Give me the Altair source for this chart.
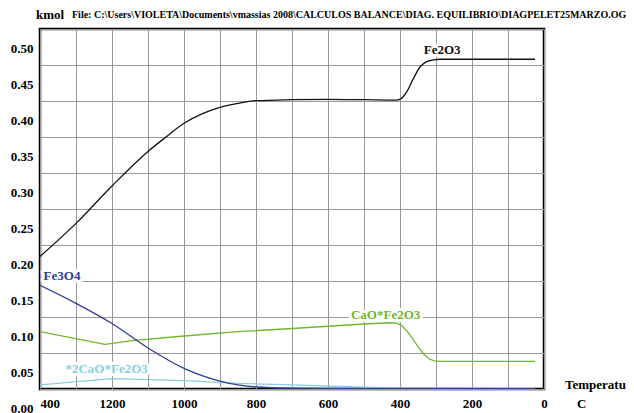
import altair as alt
import pandas as pd

# ---- data (temperature in C, amount in kmol) ----
T_FE2O3 = [1400, 1300, 1200, 1100, 1050, 1000, 950, 900, 850, 800, 700, 600, 500, 410, 395, 381, 363, 344, 326, 307, 290, 25]
FE2O3 = [0.209, 0.255, 0.307, 0.355, 0.375, 0.394, 0.407, 0.416, 0.4217, 0.4254, 0.4268, 0.4273, 0.4268, 0.4262, 0.429, 0.438, 0.456, 0.4726, 0.4796, 0.482, 0.483, 0.483]

T_FE3O4 = [1400, 1300, 1200, 1100, 1000, 900, 850, 800, 700, 600, 25]
FE3O4 = [0.169, 0.144, 0.116, 0.082, 0.0537, 0.036, 0.0306, 0.0278, 0.0262, 0.0258, 0.0255]

T_CAOFE2O3 = [1400, 1220, 1137, 1000, 850, 700, 500, 430, 410, 395, 380, 365, 350, 335, 320, 305, 290, 25]
CAOFE2O3 = [0.1046, 0.087, 0.0926, 0.0986, 0.1046, 0.109, 0.1153, 0.117, 0.1165, 0.113, 0.105, 0.095, 0.084, 0.074, 0.067, 0.064, 0.0634, 0.0634]

T_2CAOFE2O3 = [1400, 1200, 1000, 850, 700, 500, 400, 370, 340, 300, 25]
CAO2FE2O3 = [0.0306, 0.0394, 0.0366, 0.0329, 0.0306, 0.0274, 0.0258, 0.0245, 0.02, 0.01, 0.01]

LABELS = ["Fe2O3", "Fe3O4", "CaO*Fe2O3", "*2CaO*Fe2O3"]
LABEL_T = [283, 1339, 440, 1215]
LABEL_V = [0.496, 0.182, 0.128, 0.0524]
COLORS = ["#111111", "#2d3f96", "#72b62c", "#86d0e0"]

Y_TICKS = [0.025 + 0.05 * k for k in range(11)]
X_TICKS = list(range(0, 1401, 100))

FONT = "Liberation Serif"

xscale = alt.Scale(domain=[1400, 0], nice=False)
yscale = alt.Scale(domain=[0.025, 0.525], nice=False, zero=False)

xaxis = alt.Axis(
    values=X_TICKS, title=None, grid=True, labelPadding=8, labelFlush=False,
    labelOverlap=False,
    labelExpr="datum.value % 200 == 0 ? (datum.value == 1400 ? '400' : toString(datum.value)) : ''",
    labelAlign={"condition": {"test": "datum.value == 1400", "value": "left"}, "value": "center"},
)
yaxis = alt.Axis(
    values=Y_TICKS, title=None, grid=True, labelPadding=7, labelFlush=False,
    labelOverlap=False, labelOffset=19,
    labelExpr="format(datum.value - 0.025, '.2f')",
)


def series(T, V, color, interp):
    df = pd.DataFrame({"T": T, "kmol": V})
    return alt.Chart(df).mark_line(
        color=color, strokeWidth=1.3, interpolate=interp, clip=True
    ).encode(
        x=alt.X("T:Q", scale=xscale, axis=xaxis),
        y=alt.Y("kmol:Q", scale=yscale, axis=yaxis),
    )


lines = [
    series(T_2CAOFE2O3, CAO2FE2O3, COLORS[3], "linear"),
    series(T_CAOFE2O3, CAOFE2O3, COLORS[2], "linear"),
    series(T_FE3O4, FE3O4, COLORS[1], "monotone"),
    series(T_FE2O3, FE2O3, COLORS[0], "monotone"),
]

lab_df = pd.DataFrame({"label": LABELS, "T": LABEL_T, "v": LABEL_V, "color": COLORS})
lab_enc = dict(
    x=alt.X("T:Q", scale=xscale, axis=xaxis),
    y=alt.Y("v:Q", scale=yscale, axis=yaxis),
    text="label:N",
)
halo = alt.Chart(lab_df).mark_text(
    font=FONT, fontSize=13, fontWeight="bold", color="white",
    stroke="white", strokeWidth=6, strokeJoin="round",
).encode(**lab_enc)
labels = alt.Chart(lab_df).mark_text(
    font=FONT, fontSize=13, fontWeight="bold",
).encode(color=alt.Color("color:N", scale=None), **lab_enc)

ann = pd.DataFrame({"t": ["x"]})


def note(text, x, y, size, align="left"):
    return alt.Chart(ann).mark_text(
        text=text, font=FONT, fontSize=size, fontWeight="bold", color="black",
        align=align, baseline="middle",
    ).encode(x=alt.value(x), y=alt.value(y))


notes = [
    note("kmol", -4, -14, 13),
    note("File: C:\\Users\\VIOLETA\\Documents\\vmassias 2008\\CALCULOS BALANCE\\DIAG. EQUILIBRIO\\DIAGPELET25MARZO.OGI", 32, -14, 10),
    note("Temperature", 525, 356, 13),
    note("C", 537, 375, 13),
]

chart = alt.layer(*lines, halo, labels, *notes).properties(
    width=504, height=360,
    autosize=alt.AutoSizeParams(type="none"),
    padding={"left": 32, "top": 21, "right": 82, "bottom": 24},
).configure_view(
    stroke="black", strokeWidth=2.5
).configure_axis(
    gridColor="#999999", gridWidth=1, domain=False, ticks=False,
    labelFont=FONT, labelFontSize=13, labelFontWeight="bold", labelColor="black",
)

chart.save("out.html", embed_options={"renderer": "svg", "actions": False})
